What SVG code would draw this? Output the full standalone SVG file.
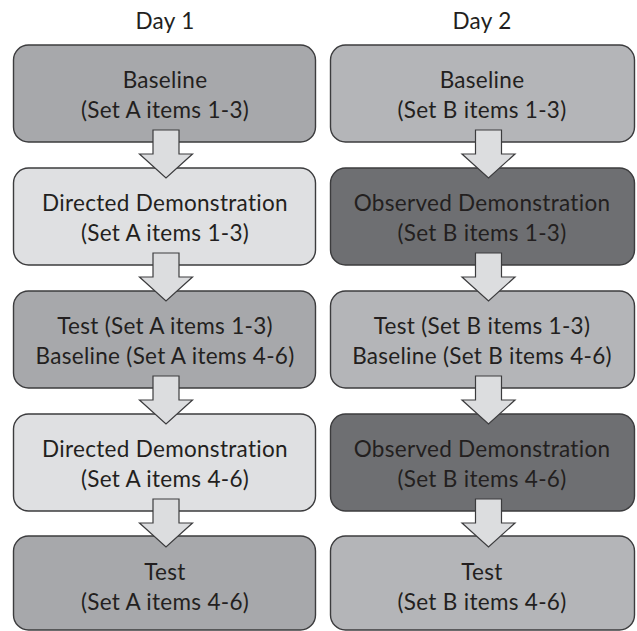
<svg xmlns="http://www.w3.org/2000/svg" width="637" height="631" viewBox="0 0 637 631">
  <defs>
    <style>
      .box { stroke: #3c3c3e; stroke-width: 1.4; }
      .mid { fill: #a7a8ab; }
      .pale { fill: #b4b5b8; }
      .light { fill: #dfe0e2; }
      .dark { fill: #6e6f72; }
      .arrow { fill: #dcdddf; stroke: #3c3c3e; stroke-width: 1.2; stroke-linejoin: miter; }
      text { font-family: Lato, "Open Sans", "DejaVu Sans", sans-serif; font-size: 22.5px; letter-spacing: 0.3px; fill: #231f20; text-anchor: middle; }
    </style>
    <path id="arr" d="M-13,0 H13 V24 H26.5 L0,48 L-26.5,24 H-13 Z"/>
  </defs>

  <!-- column headings -->
  <text x="165" y="29">Day 1</text>
  <text x="482" y="29">Day 2</text>

  <!-- Day 1 column -->
  <g id="d1-baseline">
    <rect class="box mid" x="13.5" y="45" width="302" height="97" rx="15"/>
    <text x="165" y="88">Baseline</text>
    <text x="165" y="118">(Set A items 1-3)</text>
  </g>
  <g id="d1-demo1">
    <rect class="box light" x="13.5" y="168" width="302" height="97" rx="15"/>
    <text x="165" y="211">Directed Demonstration</text>
    <text x="165" y="241">(Set A items 1-3)</text>
  </g>
  <g id="d1-test1">
    <rect class="box mid" x="13.5" y="291" width="302" height="97" rx="15"/>
    <text x="165" y="334">Test (Set A items 1-3)</text>
    <text x="165" y="364">Baseline (Set A items 4-6)</text>
  </g>
  <g id="d1-demo2">
    <rect class="box light" x="13.5" y="414" width="302" height="97" rx="15"/>
    <text x="165" y="457">Directed Demonstration</text>
    <text x="165" y="487">(Set A items 4-6)</text>
  </g>
  <g id="d1-test2">
    <rect class="box mid" x="13.5" y="536" width="302" height="94" rx="15"/>
    <text x="165" y="580">Test</text>
    <text x="165" y="610">(Set A items 4-6)</text>
  </g>

  <!-- Day 2 column -->
  <g id="d2-baseline">
    <rect class="box pale" x="330.5" y="45" width="304" height="97" rx="15"/>
    <text x="482" y="88">Baseline</text>
    <text x="482" y="118">(Set B items 1-3)</text>
  </g>
  <g id="d2-demo1">
    <rect class="box dark" x="330.5" y="168" width="304" height="97" rx="15"/>
    <text x="482" y="211">Observed Demonstration</text>
    <text x="482" y="241">(Set B items 1-3)</text>
  </g>
  <g id="d2-test1">
    <rect class="box pale" x="330.5" y="291" width="304" height="97" rx="15"/>
    <text x="482" y="334">Test (Set B items 1-3)</text>
    <text x="482" y="364">Baseline (Set B items 4-6)</text>
  </g>
  <g id="d2-demo2">
    <rect class="box dark" x="330.5" y="414" width="304" height="97" rx="15"/>
    <text x="482" y="457">Observed Demonstration</text>
    <text x="482" y="487">(Set B items 4-6)</text>
  </g>
  <g id="d2-test2">
    <rect class="box pale" x="330.5" y="536" width="304" height="94" rx="15"/>
    <text x="482" y="580">Test</text>
    <text x="482" y="610">(Set B items 4-6)</text>
  </g>

  <!-- block arrows between steps -->
  <g id="connectors" class="arrow">
    <use href="#arr" x="166" y="130"/>
    <use href="#arr" x="166" y="253"/>
    <use href="#arr" x="166" y="376"/>
    <use href="#arr" x="166" y="499"/>
    <use href="#arr" x="488.5" y="130"/>
    <use href="#arr" x="488.5" y="253"/>
    <use href="#arr" x="488.5" y="376"/>
    <use href="#arr" x="488.5" y="499"/>
  </g>
</svg>
